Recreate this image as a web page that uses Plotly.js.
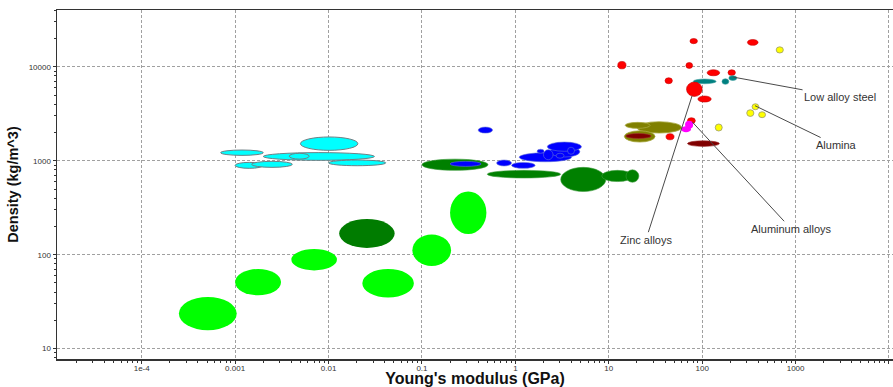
<!DOCTYPE html>
<html>
<head>
<meta charset="utf-8">
<script src="https://cdn.plot.ly/plotly-3.0.1.min.js"></script>
<style>html,body{margin:0;padding:0;background:#fff;}#chart{width:893px;height:387px;}</style>
</head>
<body>
<div id="chart"></div>
<script>
// ---- data: material property envelopes (Young's modulus GPa, density kg/m^3) ----
const family = [
  'Elastomers','Elastomers','Elastomers','Elastomers','Elastomers','Elastomers','Elastomers',
  'Natural','Polymers','Natural','Natural','Natural','Natural',
  'Polymers','Polymers','Polymers','Polymers','Polymers','Polymers','Polymers','Polymers','Polymers','Polymers',
  'Foams','Foams','Foams','Foams','Foams','Foams','Woods',
  'Metals','Metals','Ceramics','Metals','Metals','Metals','Metals','Metals',
  'Steels','Steels','Steels','Metals','Metals',
  'Ceramics','Ceramics','Ceramics',
  'Composites','Composites','Composites','Glasses','Metals','Glasses',
  'Metals','AlAlloys','AlAlloys','Ceramics'
];
const eMin = [
  0.002, 0.005, 0.0007, 0.0038, 0.001, 0.0015, 0.01,
  0.1, 0.2, 0.5, 3.06, 8.4, 15.3,
  0.4, 0.63, 0.91, 1.1, 2.35, 2.2, 2.0, 2.73, 3.62, 1.71,
  0.00025, 0.001, 0.004, 0.023, 0.079, 0.2, 0.013,
  74, 305, 620, 12.5, 67, 113, 189, 40,
  80, 163, 193, 68, 90,
  342, 300, 402,
  20, 15, 14.7, 15.2, 41, 69.5,
  69.5, 65.6, 59.4, 138
];
const eMax = [
  0.031, 0.0206, 0.002, 0.0062, 0.002, 0.0041, 0.041,
  0.51, 0.43, 3.06, 9.3, 18.3, 21,
  0.57, 0.91, 1.63, 4.0, 4.9, 5.1, 2.53, 3.32, 4.3, 2.03,
  0.00104, 0.0031, 0.0123, 0.082, 0.205, 0.49, 0.051,
  89, 397, 740, 15.3, 79, 154, 227, 48,
  141, 193, 235, 100, 125,
  404, 358, 477,
  60, 27.7, 31.3, 28.4, 50, 153,
  84.5, 80, 76, 164
];
const rhoMin = [
  1010, 1290, 1140, 1040, 830, 850, 885,
  790, 870, 655, 470, 600, 590,
  1970, 880, 830, 975, 1095, 1260, 1025, 1063, 1172, 1202,
  15.7, 37, 68, 35, 76, 166, 118,
  17600, 16900, 14000, 9500, 9600, 8020, 8080, 6600,
  6600, 6500, 7150, 4830, 4210,
  3490, 2960, 2870,
  1970, 2210, 1580, 1725, 1670, 1420,
  2480, 2188, 2010, 2070
];
const rhoMax = [
  1220, 1790, 1300, 1200, 960, 985, 1017,
  1040, 985, 790, 850, 790, 800,
  2280, 1017, 960, 1215, 1420, 1580, 1310, 1202, 1393, 1325,
  35.5, 70.5, 115, 70.5, 164, 471, 240,
  20000, 19500, 16300, 11400, 11100, 9290, 9290, 7640,
  7400, 7450, 8020, 6870, 4880,
  4040, 3490, 3320,
  2600, 2560, 2080, 1950, 1940, 1630,
  2870, 2667, 2329, 2460
];

// ---- labelled materials (arrow tip and label position, data units) ----
const labelText = ['Low alloy steel', 'Alumina', 'Zinc alloys', 'Aluminum alloys'];
const labelTipE = [216, 368, 78, 78.5];
const labelTipRho = [7760, 3850, 4910, 2580];
const labelPosE = [2995, 2716, 25, 895];
const labelPosRho = [4800, 1469, 144.5, 189];

// ---- axis ticks ----
const xTickVals = [1e-4, 1e-3, 1e-2, 0.1, 1, 10, 100, 1000, 10000];
const xTickText = ['1e-4', '0.001', '0.01', '0.1', '1', '10', '100', '1000', '10000'];
const yTickVals = [10, 100, 1000, 10000];
const yTickText = ['10', '100', '1000', '10000'];

// ---- styles ----
const styles = {
  Elastomers: {fill: '#00ffff', line: '#6f7f85', w: 1},
  Natural:    {fill: '#008000', line: '#3a9a3a', w: 0.6},
  Polymers:   {fill: '#0000ff', line: '#5f6fd8', w: 0.6},
  Foams:      {fill: '#00ff00', line: '#00ff00', w: 0},
  Woods:      {fill: '#007c00', line: '#007c00', w: 0},
  Metals:     {fill: '#ff0000', line: '#c40000', w: 0.6},
  Ceramics:   {fill: '#ffff00', line: '#9a9a70', w: 0.8},
  Steels:     {fill: '#008080', line: '#40a0a0', w: 0.6},
  Composites: {fill: '#808000', line: '#a8a840', w: 0.8},
  Glasses:    {fill: '#800000', line: '#a03030', w: 0.6},
  AlAlloys:   {fill: '#ff00ff', line: '#ff00ff', w: 0}
};

const shapes = family.map((f, i) => ({
  type: 'circle', xref: 'x', yref: 'y',
  x0: eMin[i], x1: eMax[i], y0: rhoMin[i], y1: rhoMax[i],
  fillcolor: styles[f].fill,
  line: {color: styles[f].line, width: styles[f].w},
  layer: 'above'
}));

const annotations = labelText.map((t, i) => ({
  text: t, showarrow: true, arrowhead: 0, arrowwidth: 1, arrowcolor: '#4a4a4a',
  xref: 'x', yref: 'y', axref: 'x', ayref: 'y',
  x: Math.log10(labelTipE[i]), y: Math.log10(labelTipRho[i]),
  ax: Math.log10(labelPosE[i]), ay: Math.log10(labelPosRho[i]),
  font: {family: 'Liberation Sans, Arial, sans-serif', size: 11, color: '#333'},
  standoff: 0, startstandoff: 0
}));

function minorVals(lo, hi) {
  const v = [];
  for (let d = lo; d <= hi; d++) for (let k = 2; k <= 9; k++) v.push(k * Math.pow(10, d));
  return v;
}

const gridDash = '3px,2px';
const layout = {
  width: 893, height: 387,
  margin: {l: 57, r: 0, t: 10, b: 28},
  paper_bgcolor: '#fff', plot_bgcolor: '#fff',
  showlegend: false,
  font: {family: 'Liberation Sans, Arial, sans-serif', color: '#333'},
  xaxis: {
    type: 'log', range: [-4.907, 4.043],
    tickmode: 'array', tickvals: xTickVals, ticktext: xTickText,
    tickfont: {size: 8, color: '#333'},
    ticks: 'outside', ticklen: 3, tickcolor: '#333', ticklabelstandoff: -2,
    showline: true, linecolor: '#333', linewidth: 1.5, mirror: true,
    showgrid: true, gridcolor: '#a0a0a0', gridwidth: 1, griddash: gridDash,
    zeroline: false,
    minor: {tickmode: 'array', tickvals: minorVals(-5, 4), ticks: 'outside', ticklen: 2, tickcolor: '#333', showgrid: false},
    title: {text: "Young's modulus (GPa)", font: {family: 'Liberation Sans, Arial, sans-serif', size: 16, color: '#111', weight: 'bold'}, standoff: 6}
  },
  yaxis: {
    type: 'log', range: [0.89, 4.604],
    tickmode: 'array', tickvals: yTickVals, ticktext: yTickText,
    tickfont: {size: 8, color: '#333'},
    ticks: 'outside', ticklen: 3, tickcolor: '#333',
    showline: true, linecolor: '#333', linewidth: 1.5,
    showgrid: true, gridcolor: '#a0a0a0', gridwidth: 1, griddash: gridDash,
    zeroline: false,
    minor: {tickmode: 'array', tickvals: minorVals(0, 4), ticks: 'outside', ticklen: 2, tickcolor: '#333', showgrid: false},
    title: {text: 'Density (kg/m^3)', font: {family: 'Liberation Sans, Arial, sans-serif', size: 14.5, color: '#111', weight: 'bold'}, standoff: 6}
  },
  shapes: shapes,
  annotations: annotations
};

Plotly.newPlot('chart', [], layout, {displayModeBar: false, staticPlot: true});
</script>
</body>
</html>
